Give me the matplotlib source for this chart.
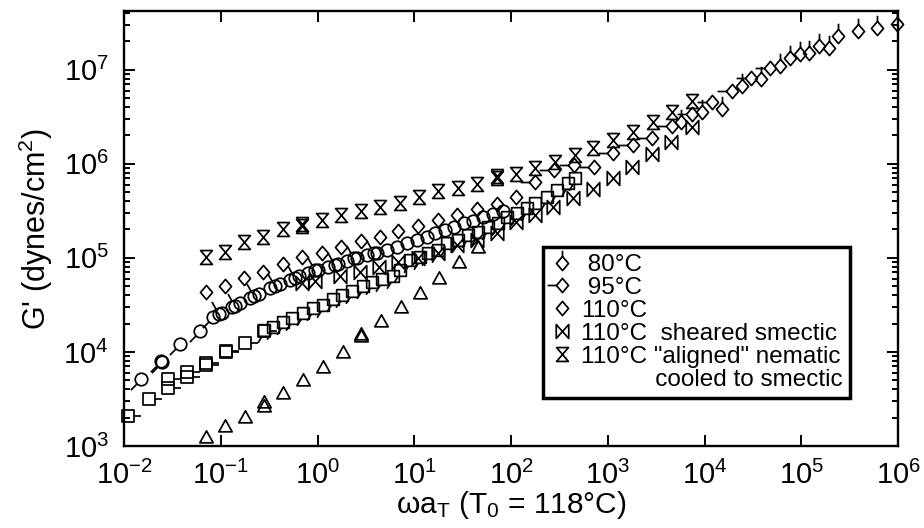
"""Storage modulus master curve, G' vs reduced frequency (T0 = 118 C)."""

import matplotlib
matplotlib.use("Agg")
import matplotlib.pyplot as plt
import numpy as np
from matplotlib.lines import Line2D
from matplotlib.path import Path
from matplotlib.ticker import NullLocator, LogLocator

plt.rcParams["font.family"] = ["Liberation Sans", "DejaVu Sans"]
plt.rcParams["mathtext.fontset"] = "custom"
plt.rcParams["mathtext.rm"] = "Liberation Sans"
plt.rcParams["mathtext.it"] = "Liberation Sans:italic"
plt.rcParams["mathtext.bf"] = "Liberation Sans:bold"
plt.rcParams["mathtext.sf"] = "Liberation Sans"

# --- data ------------------------------------------------------------------
circ_sw_x = [0.015, 0.024, 0.0245, 0.038, 0.061, 0.083]
circ_sw_y = [5.2e3, 8.0e3, 7.8e3, 1.22e4, 1.67e4, 2.36e4]

circ_x = [0.103, 0.131, 0.158, 0.20, 0.25, 0.32, 0.41, 0.52, 0.64, 0.80,
          1.0, 1.28, 1.63, 2.0, 2.56, 3.25, 4.1, 5.2, 6.6, 8.4,
          10.7, 13.5, 16.4, 20.8, 26, 33, 40, 51, 65, 83]
circ_y = [2.6e4, 3.0e4, 3.3e4, 3.75e4, 4.1e4, 4.8e4, 5.3e4, 5.8e4, 6.4e4, 6.9e4,
          7.5e4, 8.0e4, 8.6e4, 9.3e4, 1.0e5, 1.08e5, 1.13e5, 1.22e5, 1.31e5, 1.44e5,
          1.55e5, 1.67e5, 1.84e5, 1.98e5, 2.14e5, 2.36e5, 2.47e5, 2.73e5, 2.94e5, 3.16e5]

circ_nw_x = [0.095, 0.14, 0.22, 0.36, 0.58, 0.95, 1.5, 2.4, 3.8]
circ_nw_y = [2.5e4, 3.1e4, 3.9e4, 5.0e4, 6.1e4, 7.4e4, 8.4e4, 9.9e4, 1.12e5]

sq_e_x = [0.011, 0.018, 0.0285, 0.0285, 0.045, 0.045, 0.070, 0.070,
          0.113, 0.113, 0.178, 0.28]
sq_e_y = [2.08e3, 3.16e3, 4.14e3, 5.16e3, 5.4e3, 6.1e3, 7.6e3, 7.2e3,
          9.9e3, 1.02e4, 1.25e4, 1.67e4]

sq_sw_x = [0.28, 0.35, 0.44, 0.54, 0.71, 0.90, 1.14, 1.45, 1.79, 2.27,
           2.95, 3.65, 4.6, 6.0, 7.1, 9.0, 11.5, 13.9, 17.6, 21.8,
           28, 36, 46, 58, 73, 91, 115, 146, 177, 235,
           299, 388, 458]
sq_sw_y = [1.71e4, 1.84e4, 2.08e4, 2.3e4, 2.6e4, 2.94e4, 3.16e4, 3.66e4, 4.04e4, 4.45e4,
           5.04e4, 5.56e4, 5.98e4, 6.4e4, 7.4e4, 9.5e4, 1.03e5, 1.13e5, 1.22e5, 1.44e5,
           1.55e5, 1.76e5, 1.89e5, 2.14e5, 2.36e5, 2.73e5, 3.0e5, 3.4e5, 3.85e5, 4.45e5,
           5.3e5, 6.3e5, 7.1e5]

tri_x = [0.070, 0.111, 0.178, 0.28, 0.28, 0.44, 0.71, 1.14, 1.84, 2.82,
         2.82, 4.5, 7.3, 11.5, 18, 29, 46]
tri_y = [1.25e3, 1.63e3, 2.04e3, 2.67e3, 2.94e3, 3.66e3, 5.03e3, 6.9e3, 1.0e4, 1.55e4,
         1.48e4, 2.14e4, 3.0e4, 4.25e4, 6.1e4, 9.1e4, 1.31e5]

# 110 C "aligned" nematic cooled to smectic
nem_x = [0.070, 0.111, 0.174, 0.274, 0.44, 0.69, 0.69, 1.11, 1.75, 2.82,
         4.4, 7.1, 11.2, 17.6, 28, 45, 72, 72, 113, 177,
         285, 458, 704, 1130, 1820, 2940, 4620, 7430]
nem_y = [1.03e5, 1.16e5, 1.48e5, 1.67e5, 2.04e5, 2.19e5, 2.3e5, 2.53e5, 2.86e5, 3.16e5,
         3.49e5, 3.85e5, 4.45e5, 5.16e5, 5.56e5, 6.1e5, 7.1e5, 7.4e5, 7.8e5, 9.1e5,
         1.05e6, 1.25e6, 1.48e6, 1.8e6, 2.19e6, 2.8e6, 3.57e6, 4.6e6]

# 110 C sheared smectic
sm_x = [0.69, 0.94, 1.71, 2.75, 4.3, 6.8, 10.9, 17.6, 27.7, 45,
        72, 113, 177, 272, 437, 704, 1130, 1780, 2870, 4510, 7430]
sm_y = [5.4e4, 5.7e4, 6.4e4, 7.1e4, 8.0e4, 9.1e4, 1.0e5, 1.13e5, 1.37e5, 1.55e5,
        1.84e5, 2.41e5, 2.86e5, 3.49e5, 4.35e5, 5.4e5, 7.1e5, 9.3e5, 1.28e6, 1.71e6, 2.48e6]

d110_x = [0.070, 0.111, 0.174, 0.274, 0.44, 0.69, 1.11, 1.75, 2.82, 4.4,
          6.8, 10.9, 17.6, 27.7, 45, 72, 113]
d110_y = [4.35e4, 5.04e4, 6.1e4, 7.1e4, 8.6e4, 1.03e5, 1.13e5, 1.31e5, 1.52e5, 1.67e5,
          1.94e5, 2.19e5, 2.53e5, 2.86e5, 3.32e5, 3.75e5, 4.45e5]

d95_x = [177, 278, 448, 721, 1133, 1823, 2866, 4613, 7426, 1.20e4,
         1.92e4, 3.03e4, 4.76e4]
d95_y = [6.44e5, 8.63e5, 9.75e5, 9.3e5, 1.31e6, 1.59e6, 1.89e6, 2.54e6, 3.40e6, 4.57e6,
         5.98e6, 8.2e6, 1.05e7]

d80_x = [5.71e3, 9.4e3, 1.52e4, 2.44e4, 3.84e4, 6.03e4, 7.65e4, 9.7e4, 1.20e5, 1.52e5,
         1.94e5, 2.40e5, 3.86e5, 6.07e5, 9.77e5]
d80_y = [2.80e6, 3.57e6, 3.85e6, 6.76e6, 8.0e6, 1.08e7, 1.34e7, 1.48e7, 1.52e7, 1.80e7,
         1.71e7, 2.30e7, 2.60e7, 2.80e7, 3.09e7]

legend_labels = [" 80°C", " 95°C", "110°C", "110°C  sheared smectic",
                 '110°C "aligned" nematic', " " * 11 + "cooled to smectic"]

# --- marker shapes -----------------------------------------------------------
DIAMOND = Path([(0, 1), (0.85, 0), (0, -1), (-0.85, 0), (0, 1)], closed=True)
SQUARE = Path([(-1, -1), (1, -1), (1, 1), (-1, 1), (-1, -1)], closed=True)
CIRCLE = Path.unit_circle()
TRIANGLE = Path([(-1, -0.8), (1, -0.8), (0, 1), (-1, -0.8)], closed=True)
HOURGLASS = Path([(-0.85, 1), (0.85, 1), (-0.85, -1), (0.85, -1), (-0.85, 1)], closed=True)
BOWTIE = Path([(-0.9, 1), (0.9, -1), (0.9, 1), (-0.9, -1), (-0.9, 1)], closed=True)


def with_tick(base, start, end):
    stroke = Path([start, end], [Path.MOVETO, Path.LINETO])
    return Path.make_compound_path(base, stroke)


def draw(ax, x, y, path, size):
    # matplotlib rescales a path marker by its largest |vertex|; undo that so
    # the body of the symbol keeps the same size whether it has a tick or not
    ms = size * np.max(np.abs(path.vertices))
    (line,) = ax.plot(x, y, ls="none", marker=path, ms=ms, mfc="none",
                      mec="black", mew=1.25, clip_on=False)
    return line


fig = plt.figure(figsize=(9.24, 5.28), dpi=100)
ax = fig.add_axes([0.1342, 0.1553, 0.8377, 0.8239])

draw(ax, circ_sw_x, circ_sw_y, with_tick(CIRCLE, (-0.71, -0.71), (-1.7, -1.7)), 9.0)
draw(ax, circ_x, circ_y, CIRCLE, 9.0)
draw(ax, circ_nw_x, circ_nw_y, with_tick(CIRCLE, (-0.55, 0.83), (-1.2, 2.0)), 9.0)
draw(ax, sq_e_x, sq_e_y, with_tick(SQUARE, (1, 0), (2.2, 0)), 8.4)
draw(ax, sq_sw_x, sq_sw_y, with_tick(SQUARE, (-0.4, -1), (-1.1, -2.1)), 8.4)
draw(ax, tri_x, tri_y, TRIANGLE, 9.6)
l_nem = draw(ax, nem_x, nem_y, HOURGLASS, 10.0)
l_sm = draw(ax, sm_x, sm_y, BOWTIE, 10.0)
l110 = draw(ax, d110_x, d110_y, DIAMOND, 10.2)
l95 = draw(ax, d95_x, d95_y, with_tick(DIAMOND, (-0.85, 0), (-2.1, 0)), 10.2)
l80 = draw(ax, d80_x, d80_y, with_tick(DIAMOND, (0, 1), (0, 1.8)), 10.2)

ax.set_xscale("log")
ax.set_yscale("log")
ax.set_xlim(1e-2, 1e6)
ax.set_ylim(1e3, 4.2e7)
ax.xaxis.set_major_locator(LogLocator(base=10, numticks=20))
ax.xaxis.set_minor_locator(NullLocator())
ax.yaxis.set_minor_locator(LogLocator(base=10, subs=np.arange(2, 10), numticks=20))

ax.tick_params(which="both", direction="in", top=True, right=True, width=1.4)
ax.tick_params(which="major", length=8, labelsize=21)
ax.tick_params(which="minor", length=4.5)
ax.tick_params(axis="x", which="major", pad=11)
ax.tick_params(axis="y", which="major", pad=11)
for s in ax.spines.values():
    s.set_linewidth(1.7)

ax.set_xlabel(r"ωa$_\mathregular{T}$ (T$_\mathregular{0}$ = 118°C)", fontsize=21.5, labelpad=-1)
ax.set_ylabel(r"G' (dynes/cm$^\mathregular{2}$)", fontsize=22, labelpad=6)

blank = Line2D([], [], ls="none", marker="none")
leg = ax.legend([l80, l95, l110, l_sm, l_nem, blank], legend_labels,
                loc="upper left", bbox_to_anchor=(0.541, 0.457), borderaxespad=0,
                fontsize=17.5, handlelength=1.0, handletextpad=0.3,
                labelspacing=0.04, borderpad=0.28, fancybox=False,
                edgecolor="black", framealpha=1)
leg.get_frame().set_linewidth(2.5)

fig.savefig("out.png", dpi=100)
